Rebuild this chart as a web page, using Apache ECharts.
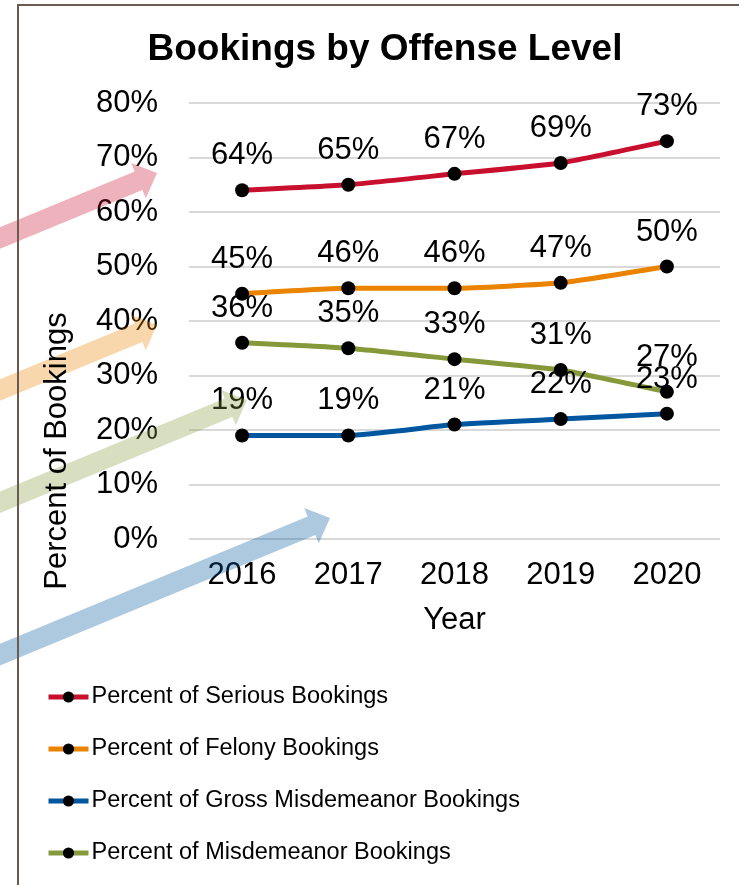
<!DOCTYPE html>
<html>
<head>
<meta charset="utf-8">
<script src="https://cdn.jsdelivr.net/npm/echarts@6/dist/echarts.min.js"></script>
<style>
    * { margin: 0; padding: 0; }
    #main { width: 739px; height: 885px; background: #FFFFFF; }
</style>
</head>
<body>
<div id="main"></div>
<script>
    var years = ['2016', '2017', '2018', '2019', '2020'];
    var serious = [64, 65, 67, 69, 73];
    var felony = [45, 46, 46, 47, 50];
    var grossMisd = [19, 19, 21, 22, 23];
    var misd = [36, 35, 33, 31, 27];

    var names = [
        'Percent of Serious Bookings',
        'Percent of Felony Bookings',
        'Percent of Gross Misdemeanor Bookings',
        'Percent of Misdemeanor Bookings'
    ];
    var colors = ['#C8102E', '#E98300', '#0057A0', '#86993A'];
    var font = 'Arial, "Liberation Sans", sans-serif';

    // decorative arrow: tip point, pointing up-right at ~22.5 deg
    function arrow(tx, ty) {
        var ang = Math.atan2(-65, 157);
        var ux = Math.cos(ang), uy = Math.sin(ang);
        var px = -uy, py = ux;
        var len = 420, hl = 20, sw = 10, hw = 19;
        var bx = tx - ux * hl, by = ty - uy * hl;
        var ex = tx - ux * len, ey = ty - uy * len;
        return [
            [tx, ty],
            [bx + px * hw, by + py * hw],
            [bx + px * sw, by + py * sw],
            [ex + px * sw, ey + py * sw],
            [ex - px * sw, ey - py * sw],
            [bx - px * sw, by - py * sw],
            [bx - px * hw, by - py * hw]
        ];
    }

    function makeSeries(i, data) {
        return {
            name: names[i],
            type: 'line',
            data: data,
            smooth: 0.15,
            symbol: 'circle',
            symbolSize: 14,
            lineStyle: { color: colors[i], width: 5 },
            itemStyle: { color: '#000000' },
            label: {
                show: true,
                position: 'top',
                distance: 12,
                formatter: '{c}%',
                color: '#000',
                fontFamily: font,
                fontSize: 31
            }
        };
    }

    var myChart = echarts.init(document.getElementById('main'));
    // arrows: serious, felony, misdemeanor, gross misdemeanor
    var tips = [[157, 173], [157, 325], [247, 400], [330, 518]];
    var arrowColors = [colors[0], colors[1], colors[3], colors[2]];
    var graphics = [];
    tips.forEach(function (t, i) {
        graphics.push({
            type: 'polygon',
            z: 100,
            shape: { points: arrow(t[0], t[1]) },
            style: { fill: arrowColors[i], opacity: 0.32 }
        });
    });
    graphics.push({
        type: 'polyline', z: 101,
        shape: { points: [[18, 885], [18, 5], [739, 5]] },
        style: { stroke: '#6B5A50', lineWidth: 2, fill: null }
    });
    graphics.push({
        type: 'text', z: 101,
        x: 57, y: 451, rotation: Math.PI / 2,
        style: {
            text: 'Percent of Bookings', fill: '#000',
            font: '31px ' + font, align: 'center', verticalAlign: 'middle'
        }
    });

    var option = {
        animation: false,
        title: {
            text: 'Bookings by Offense Level',
            left: 380,
            textAlign: 'center',
            top: 26,
            textStyle: { fontFamily: font, fontSize: 37, fontWeight: 'bold', color: '#000' }
        },
        grid: { left: 189, right: 19, top: 103, bottom: 346 },
        xAxis: {
            type: 'category',
            data: years,
            name: 'Year',
            nameLocation: 'middle',
            nameGap: 66,
            nameTextStyle: { fontFamily: font, fontSize: 31, color: '#000' },
            axisLine: { show: false },
            axisTick: { show: false },
            axisLabel: { margin: 21, fontFamily: font, fontSize: 31, color: '#000' }
        },
        yAxis: {
            type: 'value',
            min: 0,
            max: 80,
            interval: 10,
            axisLabel: { margin: 31, formatter: '{value}%', fontFamily: font, fontSize: 31, color: '#000' },
            splitLine: { lineStyle: { color: '#D9D9D9', width: 2 } }
        },
        legend: {
            orient: 'vertical',
            left: 46,
            top: 682,
            padding: 0,
            itemWidth: 40,
            itemHeight: 14,
            itemGap: 22,
            lineStyle: { width: 5 },
            textStyle: { fontFamily: font, fontSize: 23.5, lineHeight: 30, color: '#000', padding: [0, 0, 0, -2] },
            data: names
        },
        graphic: graphics,
        series: [
            makeSeries(0, serious),
            makeSeries(1, felony),
            makeSeries(2, grossMisd),
            makeSeries(3, misd)
        ]
    };
    myChart.setOption(option);
</script>
</body>
</html>
